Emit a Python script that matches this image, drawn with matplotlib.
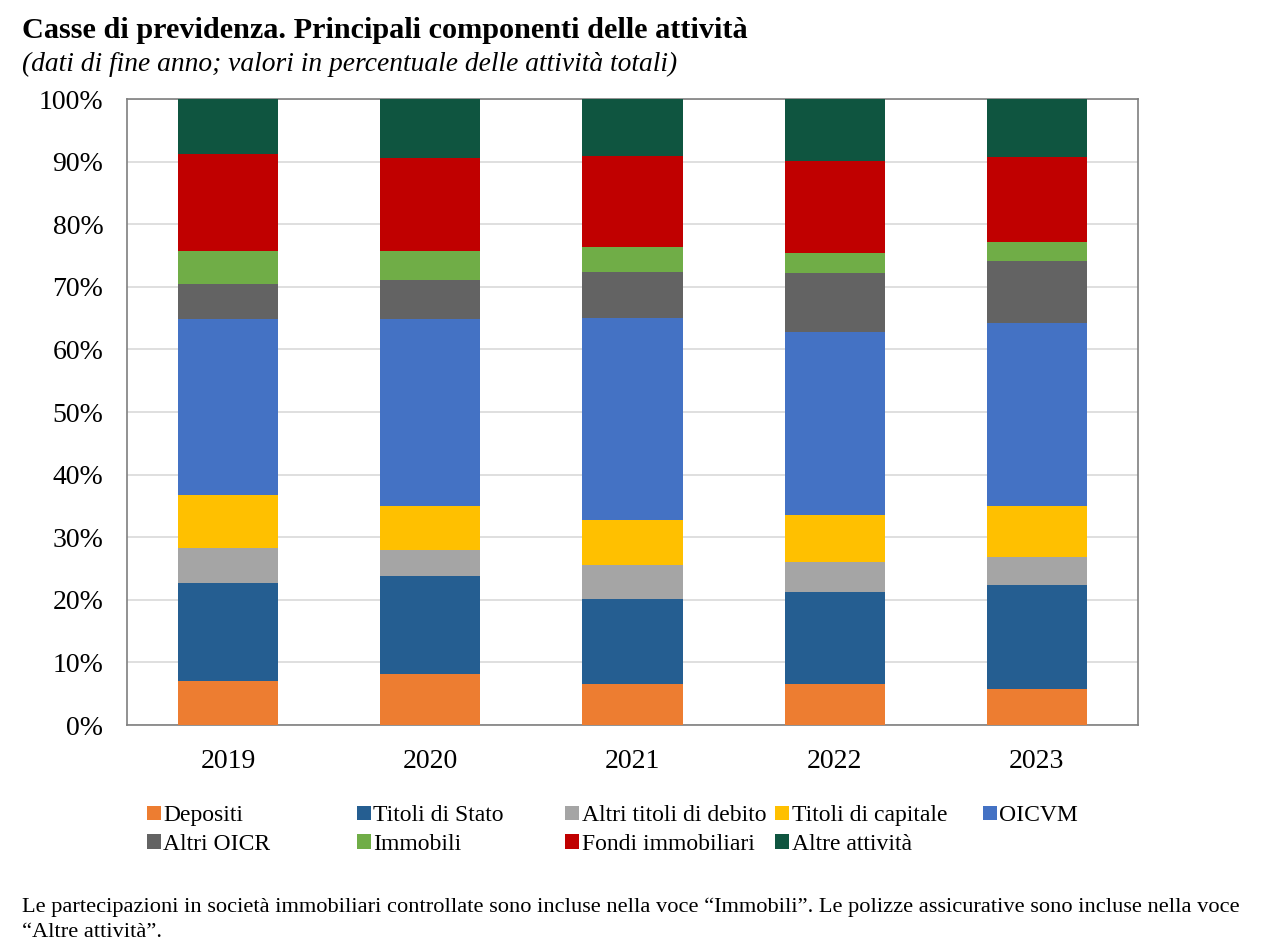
import matplotlib.pyplot as plt
import numpy as np
from matplotlib.patches import Patch

plt.rcParams['font.family'] = ['Liberation Serif', 'DejaVu Serif']

years = ['2019', '2020', '2021', '2022', '2023']
series = ['Depositi', 'Titoli di Stato', 'Altri titoli di debito', 'Titoli di capitale',
          'OICVM', 'Altri OICR', 'Immobili', 'Fondi immobiliari', 'Altre attività']
colors = ['#ED7D31', '#255E91', '#A5A5A5', '#FFC000', '#4472C4',
          '#636363', '#70AD47', '#C00000', '#0F5540']

depositi = [7.0, 8.1, 6.6, 6.5, 5.7]
titoli_stato = [15.7, 15.7, 13.5, 14.8, 16.6]
altri_titoli = [5.6, 4.2, 5.4, 4.8, 4.5]
titoli_capitale = [8.5, 7.0, 7.3, 7.5, 8.2]
oicvm = [28.1, 29.8, 32.3, 29.2, 29.2]
altri_oicr = [5.5, 6.3, 7.3, 9.4, 10.0]
immobili = [5.3, 4.7, 4.0, 3.2, 2.9]
fondi_immobiliari = [15.5, 14.8, 14.5, 14.7, 13.6]
altre_attivita = [8.8, 9.4, 9.1, 9.9, 9.3]

values = [depositi, titoli_stato, altri_titoli, titoli_capitale, oicvm,
          altri_oicr, immobili, fondi_immobiliari, altre_attivita]

fig = plt.figure(figsize=(12.68, 9.46), dpi=100)
ax = fig.add_axes([0.1002, 0.2336, 0.7973, 0.6617])

x = np.arange(len(years))
bottom = np.zeros(len(years))
for name, vals, c in zip(series, values, colors):
    ax.bar(x, vals, bottom=bottom, width=0.495, color=c, label=name, zorder=3)
    bottom += np.array(vals)

ax.set_xlim(-0.5, len(years) - 0.5)
ax.set_ylim(0, 100)
ax.set_yticks(np.arange(0, 101, 10))
ax.set_yticklabels([f'{v}%' for v in range(0, 101, 10)], fontsize=20)
ax.set_xticks(x)
ax.set_xticklabels(years, fontsize=20)
ax.tick_params(axis='y', length=0, pad=17)
ax.tick_params(axis='x', length=0, pad=17.5)
ax.grid(axis='y', color='#D9D9D9', lw=1.2, zorder=0)
for s in ax.spines.values():
    s.set_color('#7F7F7F')
    s.set_linewidth(1.2)

fig.text(0.017, 0.968, 'Casse di previdenza. Principali componenti delle attività',
         fontsize=21.8, fontweight='bold', va='center', ha='left')
fig.text(0.017, 0.932, '(dati di fine anno; valori in percentuale delle attività totali)',
         fontsize=19.8, style='italic', va='center', ha='left')

# legend, one block per column
handles = [Patch(facecolor=c, edgecolor='none') for c in colors]
col_x = [0.1159, 0.2815, 0.4456, 0.6112, 0.7752]
cols = [[0, 5], [1, 6], [2, 7], [3, 8], [4]]
for cx, idx in zip(col_x, cols):
    fig.legend([handles[i] for i in idx], [series[i] for i in idx],
               loc='upper left', bbox_to_anchor=(cx, 0.1486), frameon=False,
               fontsize=17, handlelength=0.58, handleheight=0.58, handletextpad=0.12,
               labelspacing=0.3, borderpad=0, borderaxespad=0)

fig.text(0.017, 0.028,
         'Le partecipazioni in società immobiliari controllate sono incluse nella voce “Immobili”. '
         'Le polizze assicurative sono incluse nella voce\n“Altre attività”.',
         fontsize=16.15, va='center', ha='left', linespacing=1.4)

fig.savefig('out.png', dpi=100)
